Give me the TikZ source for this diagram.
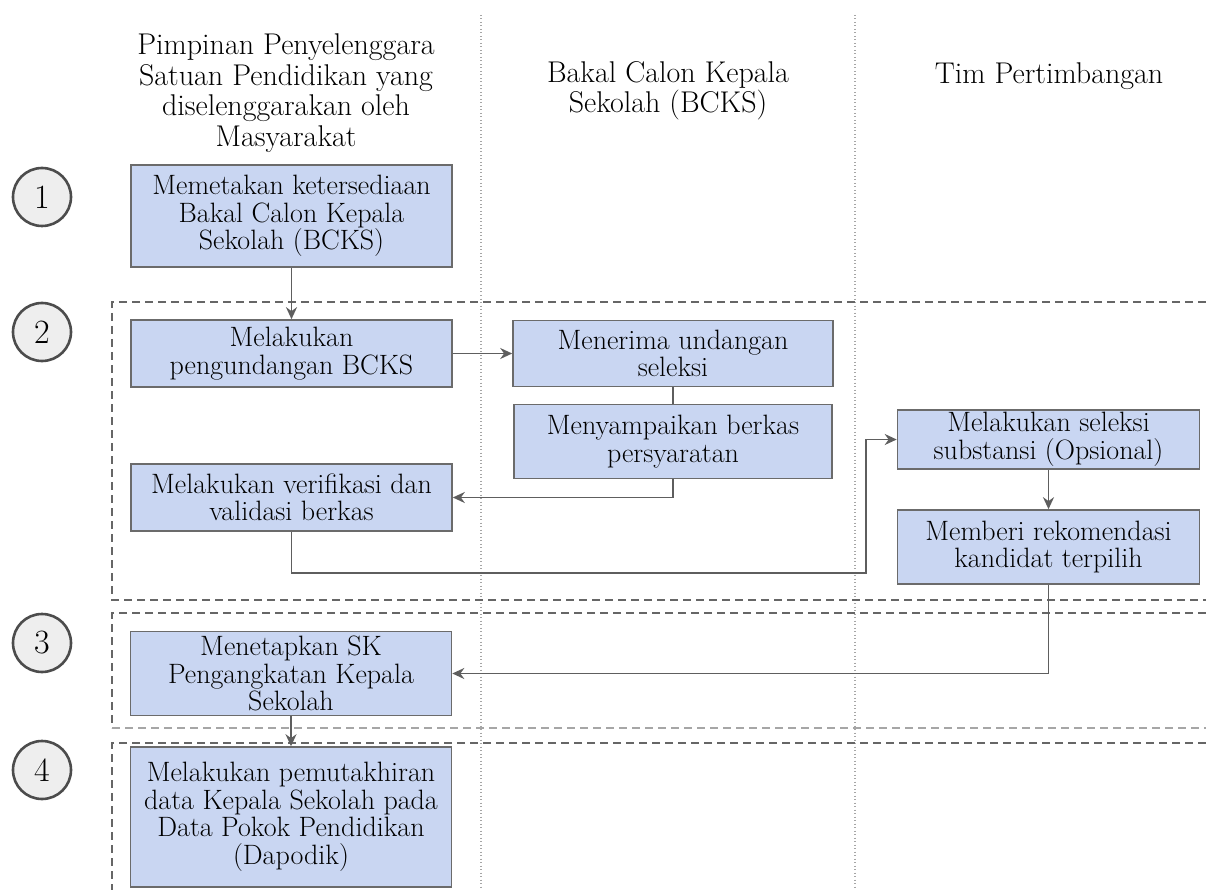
\documentclass[tikz,border=0pt]{standalone}
\usepackage{fontspec}
\usetikzlibrary{arrows.meta}
\definecolor{boxfill}{HTML}{C9D6F2}
\definecolor{boxline}{HTML}{6B6B6B}
\definecolor{linegray}{HTML}{5E5E5E}
\definecolor{stepfill}{HTML}{EEEEEE}

\begin{document}
\begin{tikzpicture}[x=1pt, y=-1pt,
  actbox/.style={draw=boxline, fill=boxfill, line width=1.6pt, align=center,
    minimum width=321pt, inner sep=0pt, font=\fontsize{28}{27.5}\selectfont},
  header/.style={align=center, inner sep=0pt, font=\fontsize{30}{30.5}\selectfont},
  stepnum/.style={circle, draw=black!70, fill=stepfill, line width=2.6pt,
    minimum size=58pt, inner sep=0pt, font=\fontsize{34}{34}\selectfont},
  flow/.style={draw=linegray, line width=1.8pt, -{Stealth[length=12pt,width=11pt]}},
  lane/.style={draw=gray!70, line width=1.3pt, dash pattern=on 1pt off 2.5pt},
  phase/.style={draw=black!60, line width=2pt, dash pattern=on 8pt off 5pt}]
  \useasboundingbox (0,0) rectangle (1206,890);

  %Lanes and phases
  \draw[lane] (481,15) -- (481,890);
  \draw[lane] (855,15) -- (855,890);
  \draw[phase] (1206,302) -- (112,302) -- (112,600) -- (1206,600);
  \draw[phase] (1206,613) -- (112,613) -- (112,728);
  \draw[phase, draw=black!35, line width=1.5pt] (112,728) -- (1206,728);
  \draw[phase] (1206,743) -- (112,743) -- (112,890);

  %Define nodes
  \node[header] (hd_pimpinan) at (286,93) {Pimpinan Penyelenggara\\Satuan Pendidikan yang\\diselenggarakan oleh\\Masyarakat};
  \node[header] (hd_bcks) at (668,91) {Bakal Calon Kepala\\Sekolah (BCKS)};
  \node[header] (hd_tim) at (1049,76) {Tim Pertimbangan};

  \node[stepnum] (s1) at (42,197) {1};
  \node[stepnum] (s2) at (42,332) {2};
  \node[stepnum] (s3) at (42,643) {3};
  \node[stepnum] (s4) at (42,770) {4};

  \node[actbox, minimum height=102pt] (petakan) at (291.5,216) {Memetakan ketersediaan\\Bakal Calon Kepala\\Sekolah (BCKS)};
  \node[actbox, minimum height=67pt] (undang) at (291.5,353.5) {Melakukan\\pengundangan BCKS};
  \node[actbox, minimum height=67pt] (verif) at (291.5,497.5) {Melakukan verifikasi dan\\validasi berkas};
  \node[actbox, minimum height=66pt, minimum width=320pt] (terima) at (673,353.5) {Menerima undangan\\seleksi};
  \node[actbox, minimum height=74pt, minimum width=318pt] (kirim) at (673,441.5) {Menyampaikan berkas\\persyaratan};
  \node[actbox, minimum height=59pt, minimum width=302pt] (seleksi) at (1048.5,439.5) {Melakukan seleksi\\substansi (Opsional)};
  \node[actbox, minimum height=74pt, minimum width=302pt] (rekom) at (1048.5,547) {Memberi rekomendasi\\kandidat terpilih};
  \node[actbox, minimum height=84pt] (sk) at (291,673.5) {Menetapkan SK\\Pengangkatan Kepala\\Sekolah};
  \node[actbox, minimum height=140pt] (update) at (291,817) {Melakukan pemutakhiran\\data Kepala Sekolah pada\\Data Pokok Pendidikan\\(Dapodik)};
  \coordinate (belok) at (866,573);

  % Connect the nodes
  \draw[flow] (petakan) -- (undang);
  \draw[flow] (undang) -- (terima);
  \draw[draw=linegray, line width=1.8pt] (terima) -- (kirim);
  \draw[flow] (kirim.south) |- (verif.east);
  \draw[flow] (verif.south) |- (belok) |- (seleksi.west);
  \draw[flow] (seleksi) -- (rekom);
  \draw[flow] (rekom.south) |- (sk.east);
  \draw[flow] (sk) -- (update);

\end{tikzpicture}
\end{document}
